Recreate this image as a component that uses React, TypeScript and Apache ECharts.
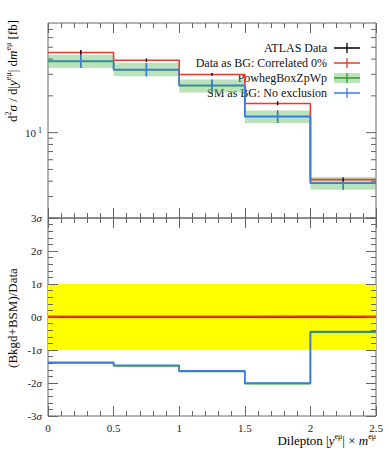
import React, { useEffect, useRef } from "react";
import * as echarts from "echarts";

// ---- data ----
const binEdges = [0, 0.5, 1, 1.5, 2, 2.5];
const atlasData = [45.5, 39.2, 30.0, 17.4, 4.12];
const atlasErr = [2.0, 1.2, 0.8, 0.6, 0.12];
const dataAsBg = [45.3, 39.1, 29.9, 17.3, 4.12];
const powhegCentral = [38.3, 32.7, 24.2, 13.5, 3.85];
const powhegLo = [33.8, 28.9, 21.3, 12.0, 3.41];
const powhegHi = [43.3, 37.2, 27.2, 15.2, 4.33];
const smAsBg = [38.4, 32.8, 24.4, 13.6, 3.86];

const ratioData = [0, 0, 0, 0, 0];
const ratioDataAsBg = [0.02, 0.02, 0.02, 0.03, 0.02];
const ratioPowheg = [-1.39, -1.48, -1.65, -2.02, -0.46];
const ratioSm = [-1.37, -1.46, -1.63, -2.0, -0.44];

const upperYTicks = [2, 3, 4, 5, 6, 7, 8, 9, 10, 20, 30, 40, 50, 60, 70];
const xTickLabels = ["0", "0.5", "1", "1.5", "2", "2.5"];

const FONT = "Liberation Serif";
const FRAME = "#666";
const RED = "#ee3a2a";
const BLUE = "#3b7be6";
const GREEN = "#2f9a2f";
const BAND = "rgba(120,200,120,0.5)";

const steps = (vals: number[]) =>
  binEdges.map((e, i) => [e, vals[Math.min(i, vals.length - 1)]]);
const centers = binEdges.slice(0, -1).map((e, i) => (e + binEdges[i + 1]) / 2);

export default function App() {
  const ref = useRef<HTMLDivElement>(null);
  useEffect(() => {
    if (!ref.current) return;
    const chart = echarts.init(ref.current, null, { renderer: "svg" });

    const xBase = (gridIndex: number, position: string, labels: boolean) => ({
      type: "value",
      gridIndex,
      position,
      min: 0,
      max: 2.5,
      interval: 0.5,
      axisLine: { show: false, onZero: false },
      splitLine: { show: false },
      axisTick: { show: true, inside: true, length: 10, lineStyle: { color: FRAME } },
      minorTick: { show: true, splitNumber: 5, length: 5, lineStyle: { color: FRAME } },
      axisLabel: {
        show: labels,
        margin: 6,
        fontFamily: FONT,
        fontSize: 11,
        color: "#222",
        formatter: (v: number) => {
          const idx = Math.round(v / 0.5);
          return xTickLabels[idx] ?? "";
        },
      },
      z: 10,
    });

    const sigmaAxis = (position: string, labels: boolean) => ({
      type: "value",
      gridIndex: 1,
      position,
      min: -3,
      max: 3,
      interval: 1,
      axisLine: { show: false, onZero: false },
      splitLine: { show: false },
      axisTick: { show: true, inside: true, length: 10, lineStyle: { color: FRAME } },
      minorTick: { show: true, splitNumber: 5, length: 5, lineStyle: { color: FRAME } },
      axisLabel: {
        show: labels,
        margin: 6,
        fontFamily: FONT,
        fontSize: 11,
        color: "#222",
        formatter: (v: number) => `{n|${v}}{i|σ}`,
        rich: {
          n: { fontFamily: FONT, fontSize: 11, color: "#222" },
          i: { fontFamily: FONT, fontSize: 11, fontStyle: "italic", color: "#222" },
        },
      },
      z: 10,
    });

    const stepLine = (vals: number[], color: string, xi: number, yi: number, z = 3) => ({
      type: "line",
      xAxisIndex: xi,
      yAxisIndex: yi,
      data: steps(vals),
      step: "end",
      symbol: "none",
      lineStyle: { color, width: 1.6 },
      z,
      silent: true,
    });

    const errBars = (vals: number[], lo: number[], hi: number[], color: string, z: number) => ({
      type: "custom",
      xAxisIndex: 0,
      yAxisIndex: 0,
      z,
      silent: true,
      data: centers.map((c, i) => [c, lo[i], hi[i], vals[i]]),
      encode: { x: 0, y: [1, 2] },
      renderItem: (_p: any, api: any) => {
        const a = api.coord([api.value(0), api.value(1)]);
        const b = api.coord([api.value(0), api.value(2)]);
        return {
          type: "line",
          shape: { x1: a[0], y1: a[1], x2: b[0], y2: b[1] },
          style: { stroke: color, lineWidth: 1.4 },
        };
      },
    });

    const legendRows = [
      { label: "ATLAS Data", color: "#000", band: false },
      { label: "Data as BG: Correlated 0%", color: RED, band: false },
      { label: "PowhegBoxZpWp", color: GREEN, band: true },
      { label: "SM as BG: No exclusion", color: BLUE, band: false },
    ];
    const legendGraphics: any[] = [];
    legendRows.forEach((r, i) => {
      const y = 48 + i * 15;
      legendGraphics.push({
        type: "text",
        x: 327,
        y,
        style: {
          text: r.label,
          fontFamily: FONT,
          fontSize: 12,
          fill: "#111",
          align: "right",
          verticalAlign: "middle",
        },
      });
      if (r.band) {
        legendGraphics.push({
          type: "rect",
          shape: { x: 334, y: y - 5, width: 26, height: 10 },
          style: { fill: BAND },
        });
      }
      legendGraphics.push({
        type: "line",
        shape: { x1: 334, y1: y, x2: 360, y2: y },
        style: { stroke: r.color, lineWidth: 1.5 },
      });
      legendGraphics.push({
        type: "line",
        shape: { x1: 347, y1: y - 5, x2: 347, y2: y + 5 },
        style: { stroke: r.color, lineWidth: 1.3 },
      });
    });

    const richTitle = {
      n: { fontFamily: FONT, fontSize: 13, color: "#111", lineHeight: 15 },
      i: { fontFamily: FONT, fontSize: 13, fontStyle: "italic", color: "#111", lineHeight: 15 },
      s: { fontFamily: FONT, fontSize: 8, color: "#111", verticalAlign: "top" },
    };

    const option: any = {
      animation: false,
      backgroundColor: "#fff",
      grid: [
        { left: 48, top: 23, width: 328, height: 195, show: true, borderColor: FRAME, borderWidth: 1, backgroundColor: "transparent" },
        { left: 48, top: 218, width: 328, height: 198, show: true, borderColor: FRAME, borderWidth: 1, backgroundColor: "transparent" },
      ],
      xAxis: [
        xBase(0, "bottom", false),
        xBase(0, "top", false),
        xBase(1, "bottom", true),
        xBase(1, "top", false),
      ],
      yAxis: [
        {
          type: "log",
          gridIndex: 0,
          position: "left",
          min: 2,
          max: 79,
          logBase: 10,
          axisLine: { show: false, onZero: false },
          splitLine: { show: false },
          axisTick: { show: false },
          minorTick: { show: false },
          axisLabel: {
            margin: 6,
            formatter: (v: number) => (Math.abs(v - 10) < 1e-6 ? "{n|10}{s| 1}" : ""),
            rich: {
              n: { fontFamily: FONT, fontSize: 11, color: "#222", lineHeight: 13 },
              s: { fontFamily: FONT, fontSize: 8, color: "#222", verticalAlign: "top" },
            },
          },
        },
        sigmaAxis("left", true),
        sigmaAxis("right", false),
      ],
      graphic: [
        {
          type: "text",
          x: 12,
          y: 71,
          rotation: Math.PI / 2,
          style: {
            text: "{n|d}{s|2}{i|σ}{n| / d|}{i|y}{s|eμ}{n|| d}{i|m}{s|eμ}{n| [fb]}",
            rich: richTitle,
            align: "center",
            verticalAlign: "middle",
          },
        },
        {
          type: "text",
          x: 12,
          y: 318,
          rotation: Math.PI / 2,
          style: {
            text: "(Bkgd+BSM)/Data",
            fontFamily: FONT,
            fontSize: 13,
            fill: "#111",
            align: "center",
            verticalAlign: "middle",
          },
        },
        {
          type: "text",
          x: 376,
          y: 440,
          style: {
            text: "{n|Dilepton |}{i|y}{s|eμ}{n|| × }{i|m}{s|eμ}",
            rich: richTitle,
            align: "right",
            verticalAlign: "middle",
          },
        },
        ...legendGraphics,
      ],
      series: [
        // upper: powheg band
        {
          type: "custom",
          xAxisIndex: 0,
          yAxisIndex: 0,
          z: 1,
          silent: true,
          data: centers.map((_c, i) => [binEdges[i], binEdges[i + 1], powhegLo[i], powhegHi[i]]),
          encode: { x: [0, 1], y: [2, 3] },
          renderItem: (_p: any, api: any) => {
            const a = api.coord([api.value(0), api.value(3)]);
            const b = api.coord([api.value(1), api.value(2)]);
            return {
              type: "rect",
              shape: { x: a[0], y: a[1], width: b[0] - a[0], height: b[1] - a[1] },
              style: { fill: BAND },
            };
          },
        },
        stepLine(powhegCentral, GREEN, 0, 0, 2),
        stepLine(dataAsBg, RED, 0, 0, 3),
        stepLine(smAsBg, BLUE, 0, 0, 4),
        errBars(powhegCentral, powhegLo, powhegHi, GREEN, 2),
        errBars(dataAsBg, atlasData.map((v, i) => v - atlasErr[i]), atlasData.map((v, i) => v + atlasErr[i]), RED, 3),
        errBars(smAsBg, powhegLo, powhegHi, BLUE, 4),
        errBars(atlasData, atlasData.map((v, i) => v - atlasErr[i]), atlasData.map((v, i) => v + atlasErr[i]), "#111", 5),
        // upper: log y ticks (left & right)
        {
          type: "custom",
          xAxisIndex: 0,
          yAxisIndex: 0,
          z: 6,
          silent: true,
          data: upperYTicks.map((v) => [0, v, v === 10 ? 1 : 0]),
          encode: { x: 0, y: 1 },
          renderItem: (params: any, api: any) => {
            const p = api.coord([0, api.value(1)]);
            const cs = params.coordSys;
            const len = api.value(2) === 1 ? 10 : 5;
            return {
              type: "group",
              children: [
                { type: "line", shape: { x1: cs.x, y1: p[1], x2: cs.x + len, y2: p[1] }, style: { stroke: FRAME, lineWidth: 1 } },
                { type: "line", shape: { x1: cs.x + cs.width, y1: p[1], x2: cs.x + cs.width - len, y2: p[1] }, style: { stroke: FRAME, lineWidth: 1 } },
              ],
            };
          },
        },
        // lower: yellow 1 sigma band
        {
          type: "custom",
          xAxisIndex: 2,
          yAxisIndex: 1,
          z: 0,
          silent: true,
          data: [[0, 2.5, -1, 1]],
          encode: { x: [0, 1], y: [2, 3] },
          renderItem: (_p: any, api: any) => {
            const a = api.coord([api.value(0), api.value(3)]);
            const b = api.coord([api.value(1), api.value(2)]);
            return {
              type: "rect",
              shape: { x: a[0], y: a[1], width: b[0] - a[0], height: b[1] - a[1] },
              style: { fill: "#ffff00" },
            };
          },
        },
        stepLine(ratioData, "#111", 2, 1, 2),
        stepLine(ratioDataAsBg, RED, 2, 1, 3),
        stepLine(ratioPowheg, GREEN, 2, 1, 3),
        stepLine(ratioSm, BLUE, 2, 1, 4),
      ],
    };
    chart.setOption(option);
    return () => chart.dispose();
  }, []);

  return (
    <div
      ref={ref}
      style={{ position: "fixed", left: 0, top: 0, width: 389, height: 450, background: "#fff" }}
    />
  );
}
